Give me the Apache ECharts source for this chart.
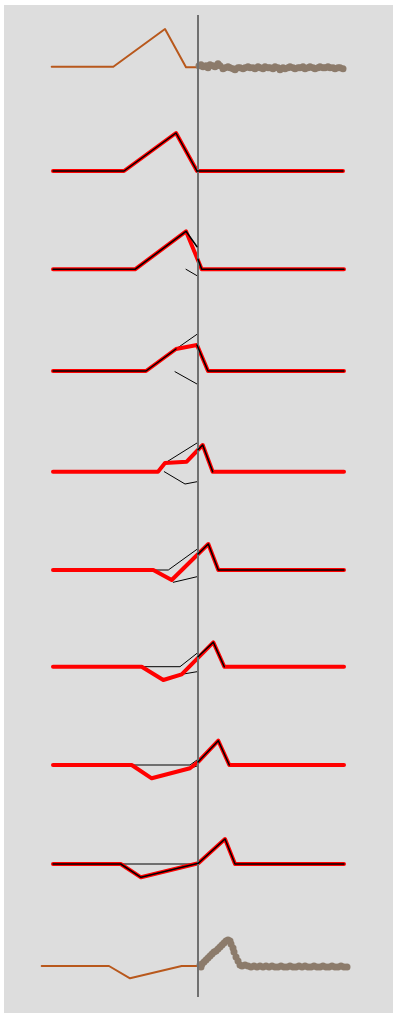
<!DOCTYPE html>
<html>
<head>
<meta charset="utf-8">
<script src="https://cdn.jsdelivr.net/npm/echarts@6/dist/echarts.min.js"></script>
<style>
html,body{margin:0;padding:0;background:#ffffff;}
#bg{position:absolute;left:4px;top:5px;width:389px;height:1008px;background:#dddddd;}
#chart{position:absolute;left:0;top:0;width:393px;height:1013px;}
</style>
</head>
<body>
<div id="bg"></div>
<div id="chart"></div>
<script>
// ---- data (time t relative to the cut; value v relative to each row's baseline) ----
const topHistory = [[-146.3,0],[-84.7,0],[-33,37.7],[-12,-0.6],[0,-0.6]];
const topDots = [[1,1],[3,2],[5,0],[8,1],[10,-1],[12,2],[15,1],[17,0],[20,3],[22,1],
  [25,-2],[27,-1],[30,0],[32,-1],[35,-2],[37,-3],[40,-1],[42,-1],[45,-2],[47,-1],
  [50,0],[52,-1],[55,-1],[57,-2],[60,0],[62,-1],[65,-2],[67,0],[70,-1],[72,-1],
  [75,-2],[77,0],[80,-1],[82,-3],[85,-1],[87,-2],[90,-1],[92,0],[95,-1],[97,-2],
  [100,-1],[102,-1],[105,0],[107,-2],[110,-1],[112,0],[115,-1],[117,-2],[120,-1],[122,0],
  [125,-1],[127,-1],[130,0],[132,-1],[135,-1],[137,-2],[140,-1],[142,-1],[145,-2]];
const bottomHistory = [[-156.3,0],[-89,0],[-68,-12.3],[-16.3,0],[0,0]];
const bottomDots = [[2,1],[3,-1],[4,2],[6,4],[8,6],[10,8],[12,10],[14,12],[16,14],[18,15],
  [20,17],[22,19],[24,21],[26,23],[28,25],[30,26],[32,25],[33,22],[35,18],[36,14],
  [38,9],[40,5],[42,1],[44,0],[47,1],[50,0],[53,-1],[56,0],[59,-1],[62,0],
  [65,-1],[68,0],[71,-1],[74,0],[77,-1],[80,-1],[83,0],[86,-1],[89,-1],[92,0],
  [95,-1],[98,-1],[101,0],[104,-1],[107,0],[110,-1],[113,-1],[116,0],[119,-1],[122,-1],
  [125,0],[128,-1],[131,-1],[134,0],[137,-1],[140,-1],[143,0],[146,-1],[149,-1]];

// morph rows (rows 2..9): red path
const morphRed = [
  [[-145,0],[-74,0],[-22,38],[-1,0],[145,0]],
  [[-145,0],[-63,0],[-12,38],[3.7,0],[146,0]],
  [[-145,0],[-52,0],[-22,22],[-1,26],[10,0],[146,0]],
  [[-145,0],[-40,0],[-33,8.7],[-11.3,10],[4.7,26.7],[14.7,0],[146,0]],
  [[-145,0],[-44.7,0],[-26.3,-10],[10.3,26],[20.3,0],[146,0]],
  [[-145,0],[-56.3,0],[-34.7,-13.3],[-16.3,-7.6],[15.3,24.4],[26.3,0],[146,0]],
  [[-145,0],[-66.3,0],[-46.3,-13.3],[-8,-3.3],[0,3],[20.3,24.3],[31.3,0],[146,0]],
  [[-145,0],[-77.3,0],[-57,-13.3],[0.3,0.7],[27,25],[37,0],[146,0]]
];
// black history paths
const morphBlackPast = [
  [[-145,0],[-74,0],[-22,38],[-1,0]],
  [[-145,0],[-63,0],[-12,38],[-1,22.6]],
  [[-145,0],[-52,0],[-22,22]],
  [[-145,0],[-40,0],[-33,8.7]],
  [[-145,0],[-44.7,0]],
  [[-145,0],[-56.3,0]],
  [[-145,0],[-66.3,0]],
  [[-145,0],[-77.3,0],[-57,-13.3],[0.3,0.7]]
];
// black future paths
const morphBlackFuture = [
  [[-1,0],[145,0]],
  [[0,10],[3.7,0],[146,0]],
  [[-1,26],[10,0],[146,0]],
  [[0,22],[4.7,26.7],[14.7,0]],
  [[0,16],[10.3,26],[20.3,0],[146,0]],
  [[0,10],[15.3,24.4],[26.3,0]],
  [[0,3],[20.3,24.3],[31.3,0]],
  [[0.3,0.7],[27,25],[37,0],[146,0]]
];
// thin black bound lines
const morphBlackBounds = [
  [],
  [[[-12,0],[-1,-6.4]]],
  [[[-22,22],[-1,36.7]], [[-23,-0.7],[-1,-13]]],
  [[[-33,8.7],[-1,28.7]], [[-33.7,0],[-13,-12.3],[-1,-10]]],
  [[[-44.7,0],[-29.7,0],[-1,20.7]], [[-24.7,-12.3],[-1,-6.7]]],
  [[[-56.3,0],[-18,0],[-1,13.4]], [[-56.3,0],[-34.7,-13.3],[-16.3,-7.6],[-1,-5]]],
  [[[-66.3,0],[-8,0],[-1,5]], [[-66.3,0],[-46.3,-13.3],[-8,-3.3],[-1,-1]]],
  [[[-77.3,0],[0,0]]]
];

// ---- layout ----
const baselines = [66.7, 171, 269.3, 371, 471.7, 570, 666.7, 765, 864, 966];
const pastOnTop = [true, true, true, false, false, false, false, true];
const tMin = -160, tMax = 150;
const half = 40;

const grids = [], xAxes = [], yAxes = [], series = [];
function addGrid(top, height, ymin, ymax) {
  grids.push({left: 38, width: 310, top: top, height: height});
  const i = grids.length - 1;
  xAxes.push({type: 'value', gridIndex: i, min: tMin, max: tMax, show: false});
  yAxes.push({type: 'value', gridIndex: i, min: ymin, max: ymax, show: false});
  return i;
}
function line(idx, data, color, width, z) {
  series.push({type: 'line', xAxisIndex: idx, yAxisIndex: idx, data: data, symbol: 'none',
    lineStyle: {color: color, width: width, cap: 'round', join: 'round'}, z: z, silent: true});
}
const brown = '#b8581c', dotColor = '#8c7b6b';

baselines.forEach((b, r) => {
  const g = addGrid(b - half, 2 * half, -half, half);
  if (r === 0 || r === baselines.length - 1) {
    const hist = r === 0 ? topHistory : bottomHistory;
    const dots = r === 0 ? topDots : bottomDots;
    line(g, hist, brown, 2, 3);
    series.push({type: 'scatter', xAxisIndex: g, yAxisIndex: g, data: dots, symbolSize: 7,
      itemStyle: {color: dotColor, opacity: 1}, z: 3, silent: true});
  } else {
    const m = r - 1;
    line(g, morphRed[m], '#ff0000', 4, 4);
    line(g, morphBlackPast[m], '#000000', 1.5, pastOnTop[m] ? 5 : 3);
    line(g, morphBlackFuture[m], '#000000', 1.5, 5);
    morphBlackBounds[m].forEach(p => line(g, p, '#000000', 1, 3));
  }
});

// vertical cut line
const gv = addGrid(15, 982, 0, 1);
series.push({type: 'line', xAxisIndex: gv, yAxisIndex: gv, data: [], z: 10, silent: true,
  markLine: {silent: true, symbol: 'none', label: {show: false},
    lineStyle: {color: '#707070', width: 2, type: 'solid'}, data: [{xAxis: 0}]}});

const chart = echarts.init(document.getElementById('chart'), null, {renderer: 'canvas'});
chart.setOption({animation: false, grid: grids, xAxis: xAxes, yAxis: yAxes, series: series});
</script>
</body>
</html>
